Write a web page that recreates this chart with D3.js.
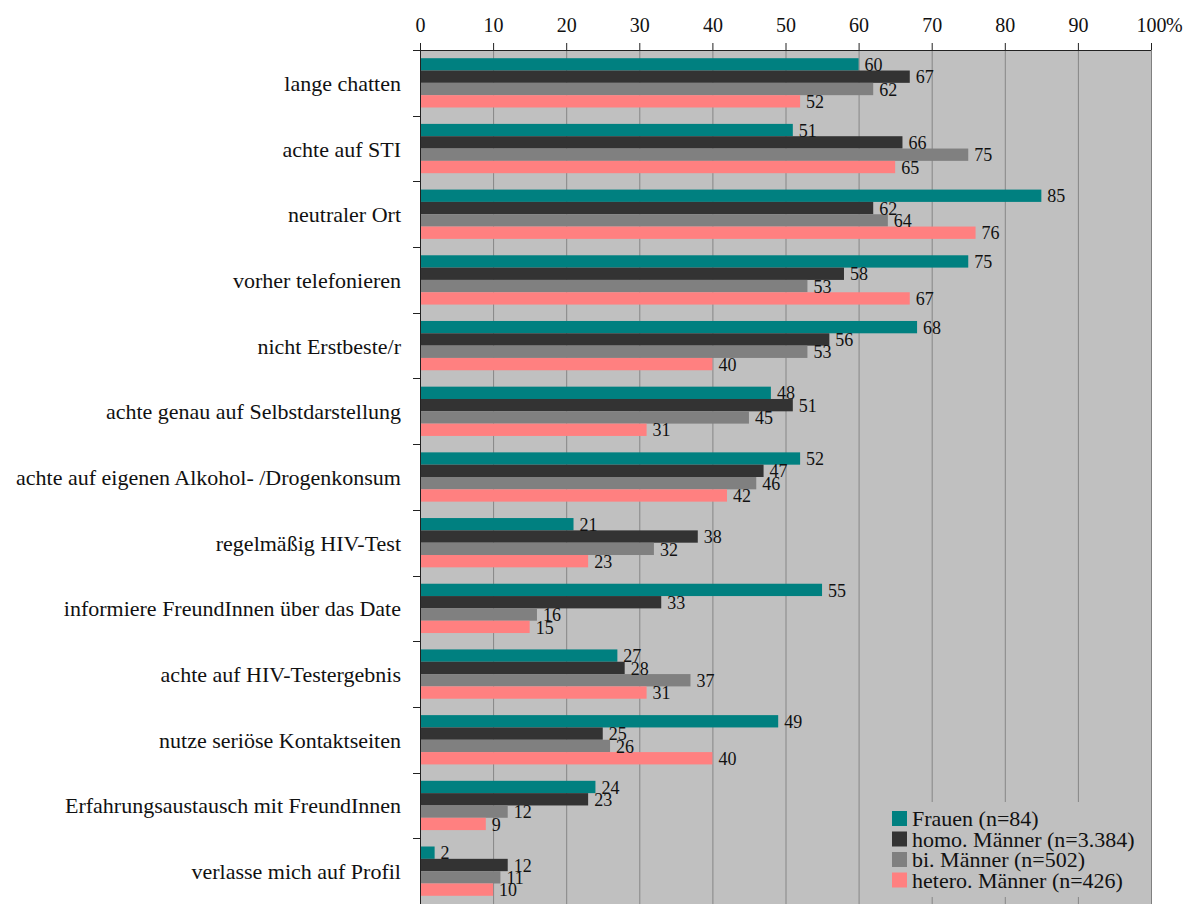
<!DOCTYPE html>
<html>
<head>
<meta charset="utf-8">
<script src="https://cdn.jsdelivr.net/npm/d3@7"></script>
<style>
  html, body { margin: 0; padding: 0; background: #ffffff; }
  svg { display: block; font-family: "Liberation Serif", "DejaVu Serif", serif; }
</style>
</head>
<body>
<svg id="chart" width="1188" height="904"></svg>
<script>
const categories = [
  "lange chatten",
  "achte auf STI",
  "neutraler Ort",
  "vorher telefonieren",
  "nicht Erstbeste/r",
  "achte genau auf Selbstdarstellung",
  "achte auf eigenen Alkohol- /Drogenkonsum",
  "regelmäßig HIV-Test",
  "informiere FreundInnen über das Date",
  "achte auf HIV-Testergebnis",
  "nutze seriöse Kontaktseiten",
  "Erfahrungsaustausch mit FreundInnen",
  "verlasse mich auf Profil"
];
const seriesNames = [
  "Frauen (n=84)",
  "homo. Männer (n=3.384)",
  "bi. Männer (n=502)",
  "hetero. Männer (n=426)"
];
const frauen = [60, 51, 85, 75, 68, 48, 52, 21, 55, 27, 49, 24, 2];
const homoMaenner = [67, 66, 62, 58, 56, 51, 47, 38, 33, 28, 25, 23, 12];
const biMaenner = [62, 75, 64, 53, 53, 45, 46, 32, 16, 37, 26, 12, 11];
const heteroMaenner = [52, 65, 76, 67, 40, 31, 42, 23, 15, 31, 40, 9, 10];
const seriesColors = ["#008080", "#333333", "#808080", "#ff8080"];
const xTicks = [0, 10, 20, 30, 40, 50, 60, 70, 80, 90, 100];

const seriesValues = [frauen, homoMaenner, biMaenner, heteroMaenner];

const svg = d3.select("#chart");
const pLeft = 420, pRight = 1151, pTop = 50, pBottom = 904;

const x = d3.scaleLinear().domain([0, 100]).range([pLeft, pRight]);
const y = d3.scaleBand().domain(categories).range([pTop, pBottom]).padding(0);
const groupPad = 8.2;
const yInner = d3.scaleBand().domain(d3.range(seriesNames.length))
  .range([groupPad, y.bandwidth() - groupPad]).padding(0);

// plot background
svg.append("rect")
  .attr("x", pLeft).attr("y", pTop)
  .attr("width", pRight - pLeft).attr("height", pBottom - pTop)
  .attr("fill", "#c0c0c0");

// gridlines
svg.append("g").selectAll("line")
  .data(xTicks.filter(d => d > 0))
  .join("line")
  .attr("x1", d => x(d) + 0.5).attr("x2", d => x(d) + 0.5)
  .attr("y1", pTop).attr("y2", pBottom)
  .attr("stroke", "#868686").attr("stroke-width", 1);

// bars
const groups = svg.append("g").selectAll("g")
  .data(categories)
  .join("g")
  .attr("transform", d => `translate(0,${y(d)})`);

groups.each(function(cat, ci) {
  const g = d3.select(this);
  seriesValues.forEach((vals, si) => {
    g.append("rect")
      .attr("x", x(0))
      .attr("y", yInner(si))
      .attr("width", x(vals[ci]) - x(0))
      .attr("height", yInner.bandwidth())
      .attr("fill", seriesColors[si]);
  });
});

// value labels
groups.each(function(cat, ci) {
  const g = d3.select(this);
  seriesValues.forEach((vals, si) => {
    g.append("text")
      .attr("x", x(vals[ci]) + 6)
      .attr("y", yInner(si) + yInner.bandwidth() + 0.5)
      .attr("font-size", 18)
      .attr("fill", "#111")
      .text(vals[ci]);
  });
});

// top axis
const xAxis = d3.axisTop(x).tickValues(xTicks).tickSize(7).tickPadding(11)
  .tickFormat(d => d);
const gx = svg.append("g").attr("transform", `translate(0,${pTop})`).call(xAxis);
gx.select(".domain").attr("stroke", "#222").attr("d", `M${pLeft - 7},0.5H${pRight}`);
gx.selectAll(".tick line").attr("stroke", "#222");
gx.selectAll(".tick text")
  .attr("font-family", "Liberation Serif, serif")
  .attr("font-size", 20).attr("fill", "#111");
// percent sign after 100
const lastTick = gx.selectAll(".tick text").filter(d => d === 100);
const lastW = lastTick.node().getComputedTextLength();
gx.append("text")
  .attr("x", x(100) + lastW / 2)
  .attr("y", -18)
  .attr("text-anchor", "start")
  .attr("font-size", 20).attr("fill", "#111")
  .attr("font-family", "Liberation Serif, serif")
  .text("%");

// left axis (ticks at category boundaries)
const boundaries = categories.map(c => y(c)).concat([pBottom]);
svg.append("line")
  .attr("x1", pLeft + 0.5).attr("x2", pLeft + 0.5)
  .attr("y1", pTop).attr("y2", pBottom)
  .attr("stroke", "#222");
svg.append("g").selectAll("line")
  .data(boundaries)
  .join("line")
  .attr("x1", pLeft - 7).attr("x2", pLeft)
  .attr("y1", d => Math.round(d) + 0.5).attr("y2", d => Math.round(d) + 0.5)
  .attr("stroke", "#222");

// category labels
svg.append("g").selectAll("text")
  .data(categories)
  .join("text")
  .attr("x", 401)
  .attr("y", d => y(d) + y.bandwidth() / 2 + 8)
  .attr("text-anchor", "end")
  .attr("font-size", 22)
  .attr("fill", "#111")
  .text(d => d);

// legend
const legend = svg.append("g");
legend.append("rect")
  .attr("x", 872).attr("y", 802)
  .attr("width", pRight - 872).attr("height", 95)
  .attr("fill", "#c0c0c0");
seriesNames.forEach((name, i) => {
  const ly = 811 + i * 20.5;
  legend.append("rect")
    .attr("x", 892).attr("y", ly)
    .attr("width", 15).attr("height", 15)
    .attr("fill", seriesColors[i]);
  legend.append("text")
    .attr("x", 912).attr("y", ly + 15)
    .attr("font-size", 22)
    .attr("fill", "#111")
    .text(name);
});

// plot right border
svg.append("line")
  .attr("x1", pRight + 0.5).attr("x2", pRight + 0.5)
  .attr("y1", pTop).attr("y2", pBottom)
  .attr("stroke", "#808080");
</script>
</body>
</html>
